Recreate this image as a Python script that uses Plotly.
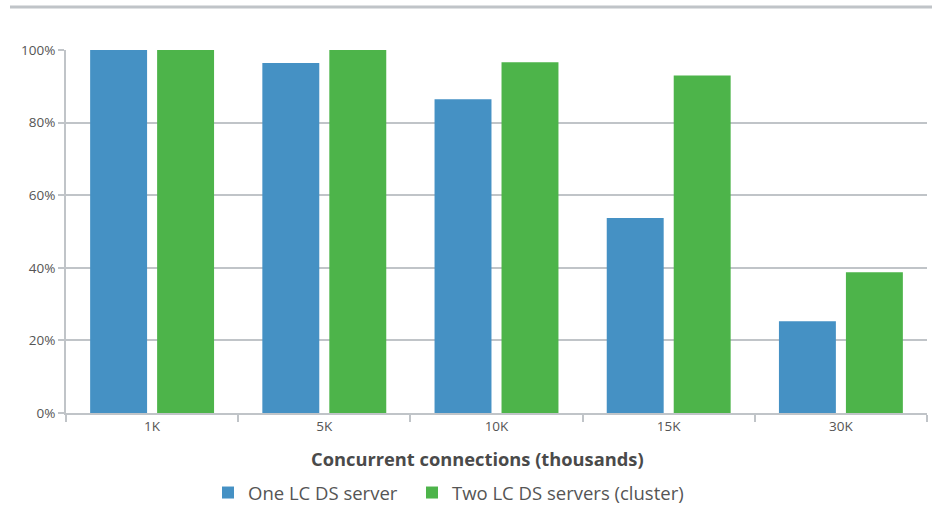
import plotly.graph_objects as go

categories = ["1K", "5K", "10K", "15K", "30K"]
one_server = [100, 96.4, 86.4, 53.7, 25.3]
two_servers = [100, 100, 96.6, 93.0, 38.8]
series_names = ["One LC DS server", "Two LC DS servers (cluster)"]
y_ticks = [0, 20, 40, 60, 80, 100]
y_tick_labels = ["0%", "20%", "40%", "60%", "80%", "100%"]

BLUE = "#4591C4"
GREEN = "#4DB44A"
GRID = "#C0C4C8"
TEXT = "#555555"
FONT = "Open Sans"

fig = go.Figure()
fig.add_bar(x=categories, y=one_server, name=series_names[0], legend="legend",
            marker=dict(color=BLUE, line=dict(width=0)))
fig.add_bar(x=categories, y=two_servers, name=series_names[1], legend="legend2",
            marker=dict(color=GREEN, line=dict(width=0)))

legend_common = dict(orientation="h", xref="container", yref="container",
                     xanchor="left", y=1 - 493 / 506, yanchor="middle",
                     font=dict(size=18.5, color=TEXT), itemwidth=30)

fig.update_layout(
    width=932, height=506,
    margin=dict(l=66, r=5, t=50, b=93, autoexpand=False),
    plot_bgcolor="white", paper_bgcolor="white",
    barmode="group", bargap=0.222, bargroupgap=0.15,
    font=dict(family=FONT, color=TEXT, size=13.5),
    showlegend=True,
    legend=dict(x=208 / 932, **legend_common),
    legend2=dict(x=412 / 932, **legend_common),
    xaxis=dict(type="category", showgrid=False, showline=True, linecolor=GRID, linewidth=2,
               ticks="outside", tickson="boundaries", ticklen=7, tickcolor=GRID, tickwidth=2,
               tickfont=dict(size=13.5, color=TEXT), automargin=False),
    yaxis=dict(range=[0, 100], tickvals=y_ticks, ticktext=y_tick_labels, showgrid=True,
               gridcolor=GRID, gridwidth=2, zeroline=False, showline=True, linecolor=GRID,
               linewidth=2, ticks="outside", ticklen=6, tickcolor=GRID, tickwidth=2,
               tickfont=dict(size=13.5, color=TEXT), automargin=False),
    annotations=[dict(text="<b>Concurrent connections (thousands)</b>", xref="paper", yref="paper",
                      x=(477 - 66) / 861, y=-(458 - 413) / 363, xanchor="center", yanchor="middle",
                      showarrow=False, font=dict(size=18.3, color="#4A4A4A", family=FONT))],
    shapes=[dict(type="line", xref="paper", yref="paper", x0=(10 - 66) / 861, x1=(932 - 66) / 861,
                 y0=1 + (50 - 7) / 363, y1=1 + (50 - 7) / 363, line=dict(color=GRID, width=3))],
)

fig.write_html("out.html", config={"displayModeBar": False},
               post_script="document.body.style.margin='0';")
